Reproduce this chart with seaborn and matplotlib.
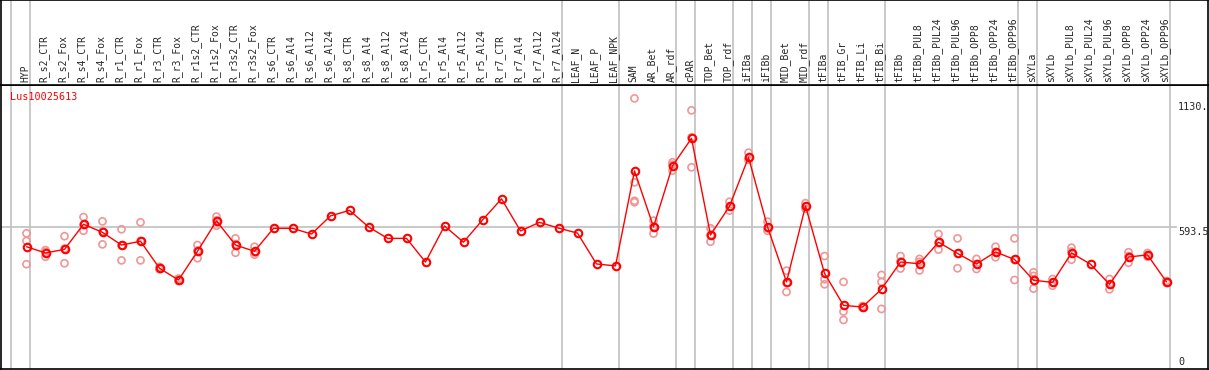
"""
Expression profile of one gene across tissues and treatments.
"""
import matplotlib

matplotlib.use("Agg")
import numpy as np
import pandas as pd
import seaborn as sns
from matplotlib import pyplot as plt
from matplotlib import transforms

GENE = "Lus10025613"

samples = [
    "HYP", "R_s2_CTR", "R_s2_Fox", "R_s4_CTR", "R_s4_Fox", "R_r1_CTR",
    "R_r1_Fox", "R_r3_CTR", "R_r3_Fox", "R_r1s2_CTR", "R_r1s2_Fox",
    "R_r3s2_CTR", "R_r3s2_Fox", "R_s6_CTR", "R_s6_Al4", "R_s6_Al12",
    "R_s6_Al24", "R_s8_CTR", "R_s8_Al4", "R_s8_Al12", "R_s8_Al24",
    "R_r5_CTR", "R_r5_Al4", "R_r5_Al12", "R_r5_Al24", "R_r7_CTR",
    "R_r7_Al4", "R_r7_Al12", "R_r7_Al24", "LEAF_N", "LEAF_P", "LEAF_NPK",
    "SAM", "AR_Bet", "AR_rdf", "cPAR", "TOP_Bet", "TOP_rdf", "iFIBa",
    "iFIBb", "MID_Bet", "MID_rdf", "tFIBa", "tFIB_Gr", "tFIB_Li", "tFIB_Bi",
    "tFIBb", "tFIBb_PUL8", "tFIBb_PUL24", "tFIBb_PUL96", "tFIBb_OPP8",
    "tFIBb_OPP24", "tFIBb_OPP96", "sXYLa", "sXYLb", "sXYLb_PUL8",
    "sXYLb_PUL24", "sXYLb_PUL96", "sXYLb_OPP8", "sXYLb_OPP24", "sXYLb_OPP96",
]

mean_expr = [
    511, 485, 500, 605, 571, 518, 534, 421, 372, 492, 619, 518, 492,
    588, 588, 564, 640, 663, 594, 546, 546, 447, 598, 530, 623, 711, 577,
    613, 589, 568, 439, 431, 828, 594, 849, 964, 560, 680, 885, 594, 364,
    681, 400, 266, 259, 334, 447, 440, 530, 483, 439, 489, 458, 371, 362,
    485, 438, 354, 468, 477, 364,
]

replicates = [
    [567, 535, 438], [497, 489, 469], [555, 503, 442], [635, 602, 578],
    [617, 575, 521], [584, 516, 454], [613, 535, 454], [427, 419, 417],
    [378, 370, 368], [518, 495, 463], [637, 621, 599], [546, 522, 486],
    [511, 487, 478], [], [], [], [], [], [], [], [], [], [], [], [], [], [],
    [], [], [], [], [], [1131, 780, 703, 697], [620, 596, 566],
    [864, 854, 829], [1081, 968, 843], [588, 560, 532], [699, 679, 662],
    [904, 877, 874], [616, 588, 578], [411, 359, 322], [693, 680, 670],
    [472, 375, 354], [364, 240, 205], [263, 258, 256], [393, 364, 251],
    [472, 449, 420], [460, 448, 412], [564, 527, 499], [546, 482, 421],
    [460, 439, 418], [511, 489, 467], [546, 456, 372], [404, 389, 336],
    [376, 362, 348], [507, 491, 457], [], [376, 353, 333], [488, 472, 444],
    [485, 476, 470], [368, 364, 360],
]

# index of the last sample in each group (-1 = left edge)
group_ends = [-1, 0, 28, 31, 34, 35, 37, 38, 39, 41, 42, 45, 52, 53, 60]

y_max = 1187.0
y_mid = 593.5
y_labels = ["1130.", "593.5", "0"]

W, H = 1209, 370
MONO = "DejaVu Sans Mono"

sns.set_style("white")
plt.rcParams["font.family"] = [MONO]

mean_df = pd.DataFrame({"pos": np.arange(len(samples)), "expr": mean_expr})
rep_df = pd.DataFrame(
    [(i, v) for i, reps in enumerate(replicates) for v in reps],
    columns=["pos", "expr"],
)

fig = plt.figure(figsize=(W / 100, H / 100), dpi=100)


def px_axes(x0: float, y0: float, x1: float, y1: float):
    """axes from pixel box, y measured from top"""
    return fig.add_axes([x0 / W, 1 - y1 / H, (x1 - x0) / W, (y1 - y0) / H])


ax = px_axes(1, 85, 1208, 369)
ax_head = px_axes(1, 0, 1208, 85)

x_left = (1 - 26.5) / 19
x_right = (1208 - 26.5) / 19
for a in (ax, ax_head):
    a.set_xlim(x_left, x_right)
    a.set_xticks([])
    a.set_yticks([])
    for s in a.spines.values():
        s.set_color("black")
        s.set_linewidth(1.2)
    for g in group_ends:
        a.axvline(g + 0.21, color="#c0c0c0", lw=1.2, zorder=0)

ax.set_ylim(0, y_max)
ax.hlines(y_mid, x_left, (1177 - 26.5) / 19, color="#c0c0c0", lw=1.2, zorder=0)

sns.scatterplot(
    data=rep_df, x="pos", y="expr", ax=ax, marker="o", s=26,
    facecolor="none", edgecolor="#f09696", linewidth=1.2, zorder=2,
)
sns.lineplot(
    data=mean_df, x="pos", y="expr", ax=ax, color="red", lw=1.0,
    marker="o", markersize=5.4, markerfacecolor="none",
    markeredgecolor="red", markeredgewidth=1.5, zorder=3,
)
ax.set_xlabel("")
ax.set_ylabel("")

ax.text(9 / 1207, 1 - 12 / 284, GENE, transform=ax.transAxes, color="red",
        fontsize=7.3, ha="left", va="center")

# right-hand value labels
ax.text((1178 - 1) / 1207, 1 - (106.5 - 85) / 284, y_labels[0],
        transform=ax.transAxes, fontsize=7.3, ha="left", va="center")
ax.text((1178 - 1) / 1207, 1 - (232 - 85) / 284, y_labels[1],
        transform=ax.transAxes, fontsize=7.3, ha="left", va="center")
ax.text((1178 - 1) / 1207, 1 - (362 - 85) / 284, y_labels[2],
        transform=ax.transAxes, fontsize=7.3, ha="left", va="center")

head_tr = transforms.blended_transform_factory(ax_head.transData,
                                               ax_head.transAxes)
for i, name in enumerate(samples):
    ax_head.text(i - 0.08, 3 / 85, name, transform=head_tr, rotation=90,
                 ha="center", va="bottom", fontsize=7.0)

fig.savefig("out.png", dpi=100)
